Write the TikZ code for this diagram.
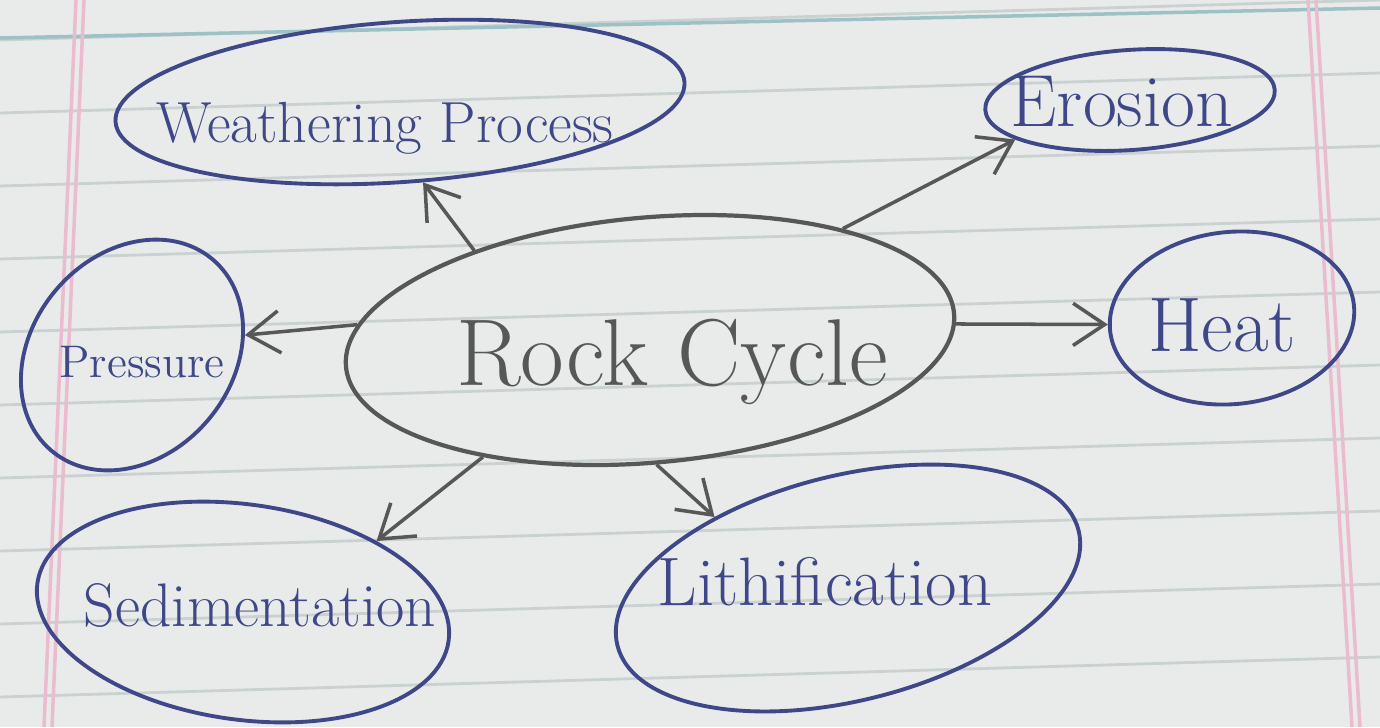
\documentclass[tikz,border=0pt]{standalone}
\usetikzlibrary{shapes.geometric,arrows.meta}
\definecolor{paper}{HTML}{E8EBEA}
\definecolor{ink}{HTML}{3E4788}
\definecolor{pencil}{HTML}{575757}
\definecolor{ruleline}{HTML}{C9D1D1}
\definecolor{marginpink}{HTML}{EBBCD0}
\definecolor{topline}{HTML}{9CC2C5}
\begin{document}
\begin{tikzpicture}[x=0.01cm,y=-0.01cm,
  bubble/.style={ellipse, draw=ink, line width=1.1pt, inner sep=0pt},
  hubshape/.style={ellipse, draw=pencil, line width=1.2pt, inner sep=0pt},
  word/.style={text=ink, inner sep=1pt},
  link/.style={draw=pencil, line width=1pt, -{Straight Barb[length=9pt,width=12pt]}}]
\fill[paper] (0,0) rectangle (1380,727);
\useasboundingbox (0,0) rectangle (1380,727);
% ruled paper
\foreach \k in {0,...,10}{
  \draw[ruleline, line width=0.8pt] (0,{40+73*\k}) -- (1380,{40+73*\k-40});
}
\draw[topline, line width=1pt] (0,38) -- (1380,8);
\draw[marginpink, line width=1pt] (76,0) -- (44,727);
\draw[marginpink, line width=1pt] (84,0) -- (52,727);
\draw[marginpink, line width=1pt] (1308,0) -- (1352,727);
\draw[marginpink, line width=1pt] (1316,0) -- (1360,727);
% ellipses
\node[hubshape, minimum width=6.1cm, minimum height=2.45cm, rotate=5] (hub) at (650,340) {};
\node[bubble, minimum width=5.7cm, minimum height=1.6cm, rotate=4] (weather) at (400,102) {};
\node[bubble, minimum width=2.9cm, minimum height=1.0cm, rotate=4] (erosion) at (1130,100) {};
\node[bubble, minimum width=2.5cm, minimum height=2.0cm, rotate=50] (pressure) at (132,355) {};
\node[bubble, minimum width=2.45cm, minimum height=1.72cm, rotate=6] (heat) at (1232,318) {};
\node[bubble, minimum width=4.15cm, minimum height=2.15cm, rotate=-8] (sedim) at (243,612) {};
\node[bubble, minimum width=4.75cm, minimum height=2.25cm, rotate=14] (lithif) at (848,588) {};
% texts
\node[text=pencil, font=\fontsize{27}{32}\selectfont] (thub) at (672,362) {Rock Cycle};
\node[word, font=\fontsize{16.5}{20}\selectfont] (tweather) at (385,128) {Weathering Process};
\node[word, font=\fontsize{21}{25}\selectfont] (terosion) at (1122,102) {Erosion};
\node[word, font=\fontsize{13}{16}\selectfont] (tpressure) at (142,362) {Pressure};
\node[word, font=\fontsize{22}{26}\selectfont] (theat) at (1222,325) {Heat};
\node[word, font=\fontsize{17.5}{21}\selectfont] (tsedim) at (260,605) {Sedimentation};
\node[word, font=\fontsize{19.5}{23}\selectfont] (tlithif) at (825,582) {Lithification};
% connectors
\draw[link] (hub.148) -- (weather.282);
\draw[link] (hub.25) -- (erosion.195);
\draw[link] (hub.172) -- (pressure.320);
\draw[link] (hub.358) -- (heat.177);
\draw[link] (hub.210) -- (sedim.36);
\draw[link] (hub.268) -- (lithif.138);
\end{tikzpicture}
\end{document}
